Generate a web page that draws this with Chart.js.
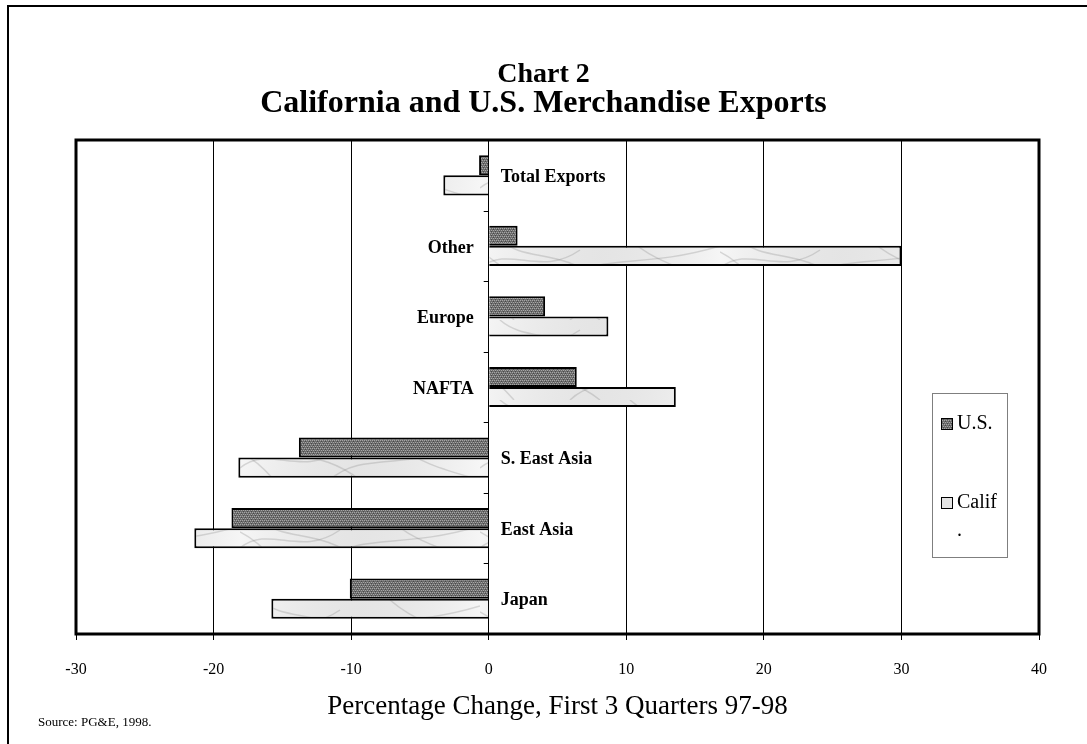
<!DOCTYPE html>
<html>
<head>
<meta charset="utf-8">
<script src="https://cdn.jsdelivr.net/npm/chart.js@4/dist/chart.umd.min.js"></script>
<style>
  html, body { margin: 0; padding: 0; background: #fff; }
  canvas { display: block; }
</style>
</head>
<body>
<canvas id="chart" width="1087" height="744"></canvas>
<script>
// Regions, top to bottom
const categories = ['Total Exports', 'Other', 'Europe', 'NAFTA', 'S. East Asia', 'East Asia', 'Japan'];
// Percentage change, first 3 quarters 97-98
const usValues    = [-0.7, 2.1, 4.1, 6.4, -13.8, -18.7, -10.1];
const califValues = [-3.3, 30.0, 8.7, 13.6, -18.2, -21.4, -15.8];
const seriesNames = ['U.S.', 'Calif.'];
const chartNumber = 'Chart 2';
const chartTitle = 'California and U.S. Merchandise Exports';
const axisTitle = 'Percentage Change, First 3 Quarters 97-98';
const sourceNote = 'Source: PG&E, 1998.';
const xMin = -30, xMax = 40, xStep = 10;

const SERIF = "'Liberation Serif', 'Times New Roman', Times, serif";

// Fine dotted fill for the U.S. bars
function makeDotPattern() {
  const c = document.createElement('canvas');
  c.width = 4; c.height = 4;
  const g = c.getContext('2d');
  g.fillStyle = '#6c6c6c';
  g.fillRect(0, 0, 4, 4);
  g.fillStyle = '#a6a6a6';
  g.fillRect(0, 0, 1, 1); g.fillRect(2, 0, 1, 1);
  g.fillRect(1, 2, 1, 1); g.fillRect(3, 2, 1, 1);
  g.fillStyle = '#4a4a4a';
  g.fillRect(1, 1, 1, 1); g.fillRect(3, 3, 1, 1);
  return g.createPattern(c, 'repeat');
}

// Light marble fill for the California bars
function makeMarblePattern() {
  const c = document.createElement('canvas');
  c.width = 240; c.height = 40;
  const g = c.getContext('2d');
  g.fillStyle = '#eeeeee';
  g.fillRect(0, 0, 240, 40);
  const shade = g.createLinearGradient(0, 0, 240, 40);
  shade.addColorStop(0, 'rgba(255,255,255,0.5)');
  shade.addColorStop(0.5, 'rgba(200,200,200,0.25)');
  shade.addColorStop(1, 'rgba(255,255,255,0.5)');
  g.fillStyle = shade;
  g.fillRect(0, 0, 240, 40);
  const veins = [
    [0, 28, 30, 4, 60, 38, 100, 10],
    [90, 40, 120, 12, 160, 30, 240, 6],
    [20, 0, 45, 22, 80, 8, 120, 40],
    [150, 0, 175, 22, 205, 30, 240, 40],
    [0, 12, 12, 18, 22, 26, 34, 40]
  ];
  g.strokeStyle = 'rgba(140,140,140,0.3)';
  g.lineWidth = 1.5;
  veins.forEach(([x0, y0, a, b, c2, d, x1, y1]) => {
    g.beginPath();
    g.moveTo(x0, y0);
    g.bezierCurveTo(a, b, c2, d, x1, y1);
    g.stroke();
  });
  return g.createPattern(c, 'repeat');
}

const usFill = makeDotPattern();
const califFill = makeMarblePattern();

function wrapChars(ctx, text, maxW) {
  const lines = [];
  let cur = '';
  for (const ch of text) {
    if (cur && ctx.measureText(cur + ch).width > maxW) { lines.push(cur); cur = ch; }
    else cur += ch;
  }
  if (cur) lines.push(cur);
  return lines;
}

const pageDecor = {
  id: 'pageDecor',
  beforeDraw(chart) {
    const ctx = chart.ctx;
    ctx.save();
    ctx.fillStyle = '#fff';
    ctx.fillRect(0, 0, chart.width, chart.height);
    // outer page border (left and top)
    ctx.strokeStyle = '#000';
    ctx.lineWidth = 2;
    ctx.beginPath();
    ctx.moveTo(8, chart.height);
    ctx.lineTo(8, 6);
    ctx.lineTo(chart.width, 6);
    ctx.stroke();
    ctx.restore();
  },
  afterDatasetsDraw(chart) {
    const ctx = chart.ctx;
    const area = chart.chartArea;
    const xs = chart.scales.x, ys = chart.scales.y;
    const zeroX = xs.getPixelForValue(0);
    ctx.save();

    // plot frame
    ctx.strokeStyle = '#000';
    ctx.lineWidth = 3;
    ctx.strokeRect(area.left, area.top, area.right - area.left, area.bottom - area.top);

    // category separators on the zero line
    ctx.lineWidth = 1;
    ctx.beginPath();
    for (let i = 1; i < categories.length; i++) {
      const yb = Math.round((ys.getPixelForValue(i - 1) + ys.getPixelForValue(i)) / 2) + 0.5;
      ctx.moveTo(zeroX - 5, yb);
      ctx.lineTo(zeroX, yb);
    }
    ctx.stroke();

    // category names beside the zero line
    ctx.fillStyle = '#000';
    ctx.font = 'bold 18px ' + SERIF;
    ctx.textBaseline = 'middle';
    categories.forEach((name, i) => {
      const y = ys.getPixelForValue(i) + 2;
      if (califValues[i] < 0) {
        ctx.textAlign = 'left';
        ctx.fillText(name, zeroX + 12, y);
      } else {
        ctx.textAlign = 'right';
        ctx.fillText(name, zeroX - 15, y);
      }
    });

    // legend box
    const box = { x: 932, y: 393, w: 75, h: 164 };
    ctx.strokeStyle = '#7f7f7f';
    ctx.lineWidth = 1;
    ctx.strokeRect(box.x + 0.5, box.y + 0.5, box.w, box.h);
    const fills = [usFill, '#e4e4e4'];
    const rowY = [424, 503];
    ctx.font = '20px ' + SERIF;
    ctx.textAlign = 'left';
    ctx.textBaseline = 'middle';
    chart.data.datasets.forEach((ds, i) => {
      const y = rowY[i];
      ctx.fillStyle = fills[i];
      ctx.fillRect(941, y - 6, 12, 12);
      ctx.strokeStyle = '#000';
      ctx.strokeRect(941.5, y - 5.5, 11, 11);
      ctx.fillStyle = '#000';
      const lines = wrapChars(ctx, ds.label, 42);
      lines.forEach((ln, k) => ctx.fillText(ln, 957, y + k * 28));
    });

    // source note
    ctx.font = '13px ' + SERIF;
    ctx.fillText(sourceNote, 38, 723);
    ctx.restore();
  }
};

new Chart(document.getElementById('chart'), {
  type: 'bar',
  data: {
    labels: categories,
    datasets: [
      { label: seriesNames[0], data: usValues, backgroundColor: usFill, borderColor: '#000', borderWidth: 2 },
      { label: seriesNames[1], data: califValues, backgroundColor: califFill, borderColor: '#000', borderWidth: 2 }
    ]
  },
  options: {
    responsive: false,
    devicePixelRatio: 1,
    animation: false,
    indexAxis: 'y',
    layout: { padding: { left: 48, right: 48, top: 0, bottom: 30 } },
    datasets: { bar: { categoryPercentage: 0.57, barPercentage: 1.0 } },
    plugins: {
      legend: { display: false },
      tooltip: { enabled: false },
      title: {
        display: true,
        text: chartNumber,
        color: '#000',
        font: { family: SERIF, size: 28, weight: 'bold', lineHeight: '28px' },
        padding: { top: 61, bottom: 0 }
      },
      subtitle: {
        display: true,
        text: chartTitle,
        color: '#000',
        font: { family: SERIF, size: 32, weight: 'bold', lineHeight: '28px' },
        padding: { top: 1, bottom: 22 }
      }
    },
    scales: {
      x: {
        type: 'linear',
        min: xMin,
        max: xMax,
        ticks: { stepSize: xStep, color: '#000', font: { family: SERIF, size: 16, lineHeight: 1.0 }, padding: 22 },
        grid: { color: '#000', lineWidth: 1, tickLength: 6, drawTicks: true },
        border: { display: false },
        title: {
          display: true,
          text: axisTitle,
          color: '#000',
          font: { family: SERIF, size: 27, lineHeight: '14px' },
          padding: { top: 0, bottom: 0 }
        }
      },
      y: {
        type: 'category',
        ticks: { display: false },
        grid: { display: false },
        border: { display: false },
        afterFit(scale) { scale.width = 28; }
      }
    }
  },
  plugins: [pageDecor]
});
</script>
</body>
</html>
